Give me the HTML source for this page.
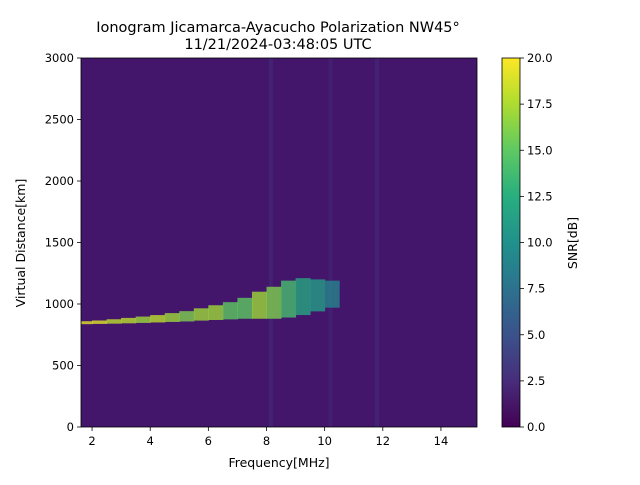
<!DOCTYPE html>
<html><head><meta charset="utf-8">
<style>
body{margin:0;background:#fff;font-family:"Liberation Sans","DejaVu Sans",sans-serif;}
svg text{font-family:"DejaVu Sans","Liberation Sans",sans-serif;}
</style></head>
<body>
<svg id="chart" width="640" height="480" xmlns="http://www.w3.org/2000/svg">
<defs>
<linearGradient id="vir" x1="0" y1="1" x2="0" y2="0">
<stop offset="0" stop-color="#440154"/><stop offset="0.125" stop-color="#472d7b"/>
<stop offset="0.25" stop-color="#3b528b"/><stop offset="0.375" stop-color="#2c728e"/>
<stop offset="0.5" stop-color="#21918c"/><stop offset="0.625" stop-color="#28ae80"/>
<stop offset="0.75" stop-color="#5ec962"/><stop offset="0.875" stop-color="#addc30"/>
<stop offset="1" stop-color="#fde725"/>
</linearGradient>
<clipPath id="plotclip"><rect x="81" y="58" width="396" height="369"/></clipPath>
</defs>
<text x="278" y="32" font-size="14.5" text-anchor="middle">Ionogram Jicamarca-Ayacucho Polarization NW45°</text>
<text x="278" y="49" font-size="14.5" text-anchor="middle">11/21/2024-03:48:05 UTC</text>
<rect x="81" y="58" width="396" height="369" fill="#43166c"/>
<g id="marks" clip-path="url(#plotclip)"></g>
<rect x="81" y="58" width="396" height="369" fill="none" stroke="#000" stroke-width="0.8"/>
<g id="axes"></g>
<text x="279" y="467" font-size="12.5" text-anchor="middle">Frequency[MHz]</text>
<text transform="translate(25,243) rotate(-90)" font-size="12.5" text-anchor="middle">Virtual Distance[km]</text>
<rect x="502" y="58" width="18" height="369" fill="url(#vir)" stroke="#000" stroke-width="0.8"/>
<g id="cbaxis"></g>
<text transform="translate(577,243) rotate(-90)" font-size="12.5" text-anchor="middle">SNR[dB]</text>
</svg>
<script>
const xTicks=[2,4,6,8,10,12,14];
const yTicks=[0,500,1000,1500,2000,2500,3000];
const cbTicks=["0.0","2.5","5.0","7.5","10.0","12.5","15.0","17.5","20.0"];
const traceFreq=[1.75,2.25,2.75,3.25,3.75,4.25,4.75,5.25,5.75,6.25,6.75,7.25,7.75,8.25,8.75,9.25,9.75,10.25];
const traceCenter=[848,852,858,865,872,880,890,900,915,930,945,965,990,1010,1040,1060,1070,1080];
const traceSpread=[12,14,18,22,26,30,36,42,50,60,70,85,110,130,150,150,130,110];
const traceSNR=[19,19,18,18,17,18,17,16,17,17,15,15,17,16,14,12,11,9];
const stripeFreq=[8.15,10.2,11.8];
const stripeSNR=[3,2.5,3];
const NS='http://www.w3.org/2000/svg';
const x=f=>81+(f-1.62)*(396/(15.24-1.62));
const y=d=>427-d*369/3000;
function vir(v){const s=[[68,1,84],[71,45,123],[59,82,139],[44,114,142],[33,145,140],[40,174,128],[94,201,98],[173,220,48],[253,231,37]];
let t=Math.max(0,Math.min(1,v/20))*8,i=Math.min(7,Math.floor(t)),u=t-i;
return 'rgb('+s[i].map((c,k)=>Math.round(c+(s[i+1][k]-c)*u)).join(',')+')';}
const marks=document.getElementById('marks');
stripeFreq.forEach((f,i)=>{const r=document.createElementNS(NS,'rect');


r.setAttribute('x',x(f)-2);r.setAttribute('y',58);r.setAttribute('width',4);r.setAttribute('height',369);
r.setAttribute('fill',vir(stripeSNR[i]));r.setAttribute('opacity',0.4);marks.appendChild(r);});
traceFreq.forEach((f,i)=>{const r=document.createElementNS(NS,'rect');


const y1=y(traceCenter[i]+traceSpread[i]),y2=y(traceCenter[i]-traceSpread[i]);
r.setAttribute('x',x(f-0.25));r.setAttribute('width',x(f+0.25)-x(f-0.25)+0.5);
r.setAttribute('y',y1);r.setAttribute('height',y2-y1);
r.setAttribute('fill',vir(traceSNR[i]));r.setAttribute('opacity',0.8);marks.appendChild(r);});
const ax=document.getElementById('axes');
function line(g,x1,y1,x2,y2,n){const l=document.createElementNS(NS,'line');


l.setAttribute('x1',x1);l.setAttribute('y1',y1);l.setAttribute('x2',x2);l.setAttribute('y2',y2);l.setAttribute('stroke','#000');l.setAttribute('stroke-width',0.8);g.appendChild(l);}
function txt(g,X,Y,s,a,n){const t=document.createElementNS(NS,'text');


t.setAttribute('x',X);t.setAttribute('y',Y);t.setAttribute('font-size',11.5);t.setAttribute('text-anchor',a);t.textContent=s;g.appendChild(t);}
xTicks.forEach(v=>{line(ax,x(v),427,x(v),431,'x-tick');txt(ax,x(v),445,v,'middle','x-tick-label');});
yTicks.forEach(v=>{line(ax,77,y(v),81,y(v),'y-tick');txt(ax,74,y(v)+4,v,'end','y-tick-label');});
const cb=document.getElementById('cbaxis');
cbTicks.forEach((s,i)=>{const Y=427-i*369/8;line(cb,520,Y,524,Y,'colorbar-tick');txt(cb,527,Y+4,s,'start','colorbar-tick-label');});
</script>
</body></html>
